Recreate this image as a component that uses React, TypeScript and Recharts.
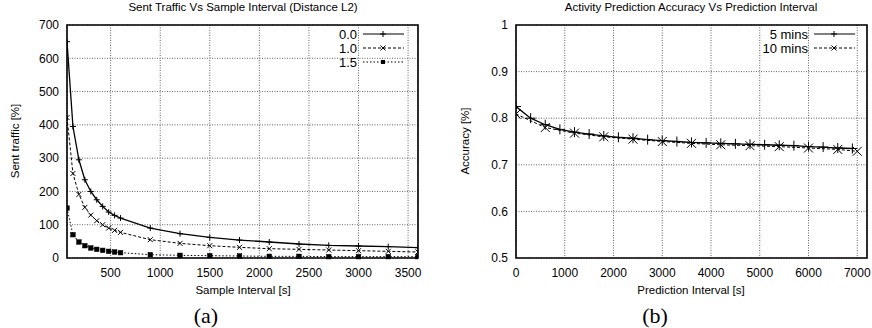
import { LineChart, Line, XAxis, YAxis, CartesianGrid, ReferenceArea } from "recharts";

// (a) sent traffic vs sample interval
const sampleIntervals = [60, 120, 180, 240, 300, 360, 420, 480, 540, 600, 900, 1200, 1500, 1800, 2100, 2400, 2700, 3000, 3300, 3600];
const traffic00 = [650, 395, 295, 235, 200, 175, 155, 138, 128, 120, 90, 73, 62, 54, 48, 42, 38, 36, 34, 31];
const traffic10 = [422, 254, 191, 152, 129, 112, 100, 90, 83, 77, 55, 44, 37, 32, 28, 26, 24, 22, 20, 18];
const traffic15 = [150, 70, 48, 37, 30, 26, 23, 20, 18, 16, 10, 8, 7, 6, 5, 5, 4, 4, 4, 4];
const trafficXTicks = [500, 1000, 1500, 2000, 2500, 3000, 3500];
const trafficYTicks = [0, 100, 200, 300, 400, 500, 600, 700];

// (b) accuracy vs prediction interval
const predInterval5 = [0, 300, 600, 900, 1200, 1500, 1800, 2100, 2400, 2700, 3000, 3300, 3600, 3900, 4200, 4500, 4800, 5100, 5400, 5700, 6000, 6300, 6600, 6900];
const accuracy5 = [0.825, 0.8, 0.786, 0.776, 0.77, 0.766, 0.762, 0.759, 0.757, 0.754, 0.752, 0.75, 0.748, 0.747, 0.746, 0.745, 0.744, 0.743, 0.742, 0.741, 0.739, 0.738, 0.736, 0.735];
const predInterval10 = [0, 600, 1200, 1800, 2400, 3000, 3600, 4200, 4800, 5400, 6000, 6600, 7000];
const accuracy10 = [0.809, 0.78, 0.768, 0.76, 0.755, 0.75, 0.746, 0.743, 0.741, 0.739, 0.736, 0.733, 0.729];
const accXTicks = [0, 1000, 2000, 3000, 4000, 5000, 6000, 7000];
const accYTicks = [0.5, 0.6, 0.7, 0.8, 0.9, 1];

const trafficData = sampleIntervals.map((x, i) => ({ x, a: traffic00[i], b: traffic10[i], c: traffic15[i] }));
const acc5Data = predInterval5.map((x, i) => ({ x, y: accuracy5[i] }));
const acc10Data = predInterval10.map((x, i) => ({ x, y: accuracy10[i] }));

const FONT = "'Liberation Sans', Arial, sans-serif";
const tickStyle = { fill: "#000", fontSize: 12, fontFamily: FONT };

const plusPath = (cx: number, cy: number, s: number) => `M${cx - s},${cy}H${cx + s}M${cx},${cy - s}V${cy + s}`;
const crossPath = (cx: number, cy: number, s: number) => `M${cx - s},${cy - s}L${cx + s},${cy + s}M${cx - s},${cy + s}L${cx + s},${cy - s}`;

const plusDot = (s: number) => (p: any) =>
  <path key={`pl-${p.index}`} d={plusPath(p.cx, p.cy, s)} stroke="#000" strokeWidth={1} fill="none" />;
const crossDot = (s: number) => (p: any) =>
  <path key={`cr-${p.index}`} d={crossPath(p.cx, p.cy, s)} stroke="#000" strokeWidth={1} fill="none" />;
const squareDot = (s: number) => (p: any) =>
  <rect key={`sq-${p.index}`} x={p.cx - s} y={p.cy - s} width={s * 2} height={s * 2} fill="#000" stroke="#000" strokeWidth={0.5} />;

function LegendRow({ x, y, label, dash, marker }: { x: number; y: number; label: string; dash?: string; marker: string }) {
  return (
    <g>
      <text x={x} y={y} textAnchor="end" dominantBaseline="central" fontSize={13} fontFamily={FONT}>{label}</text>
      <line x1={x + 6} x2={x + 47} y1={y} y2={y} stroke="#000" strokeWidth={1} strokeDasharray={dash} />
      {marker === "plus" && <path d={plusPath(x + 26, y, 3)} stroke="#000" fill="none" />}
      {marker === "cross" && <path d={crossPath(x + 26, y, 2.5)} stroke="#000" fill="none" />}
      {marker === "square" && <rect x={x + 24} y={y - 2} width={4} height={4} fill="#000" />}
    </g>
  );
}

export default function App() {
  return (
    <div style={{ position: "fixed", left: 0, top: 0, width: 872, height: 328, background: "#fff", overflow: "hidden" }}>
      <div style={{ position: "absolute", left: 0, top: 0 }}>
        <LineChart width={440} height={280} data={trafficData} margin={{ top: 25, right: 22, left: 0, bottom: 0 }}>
          <CartesianGrid stroke="#666" strokeDasharray="1 1.5" />
          <XAxis dataKey="x" type="number" domain={[60, 3600]} ticks={trafficXTicks} allowDataOverflow
            axisLine={false} tickLine={false} tick={tickStyle} height={22} tickMargin={4} />
          <YAxis type="number" domain={[0, 700]} ticks={trafficYTicks} axisLine={false} tickLine={false}
            tick={tickStyle} width={67} />
          <ReferenceArea x1={60} x2={3600} y1={0} y2={700} fill="none" stroke="#000" strokeWidth={1.6} />
          <Line dataKey="c" stroke="#000" strokeWidth={1} strokeDasharray="1.5 2" dot={squareDot(2.3)} isAnimationActive={false} />
          <Line dataKey="b" stroke="#000" strokeWidth={1} strokeDasharray="3 2" dot={crossDot(2.5)} isAnimationActive={false} />
          <Line dataKey="a" stroke="#000" strokeWidth={1.3} dot={plusDot(3)} isAnimationActive={false} />
        </LineChart>
      </div>
      <div style={{ position: "absolute", left: 440, top: 0 }}>
        <LineChart width={432} height={280} margin={{ top: 25, right: 5, left: 0, bottom: 0 }}>
          <CartesianGrid stroke="#666" strokeDasharray="1 1.5" />
          <XAxis dataKey="x" type="number" domain={[0, 7200]} ticks={accXTicks} allowDataOverflow
            axisLine={false} tickLine={false} tick={tickStyle} height={22} tickMargin={4} />
          <YAxis type="number" domain={[0.5, 1]} ticks={accYTicks} axisLine={false} tickLine={false}
            tick={tickStyle} width={76} />
          <ReferenceArea x1={0} x2={7200} y1={0.5} y2={1} fill="none" stroke="#000" strokeWidth={1.6} />
          <Line data={acc10Data} dataKey="y" stroke="#000" strokeWidth={1} strokeDasharray="3 2" dot={crossDot(4.5)} isAnimationActive={false} />
          <Line data={acc5Data} dataKey="y" stroke="#000" strokeWidth={1.3} dot={plusDot(5)} isAnimationActive={false} />
        </LineChart>
      </div>
      <svg width={872} height={328} style={{ position: "absolute", left: 0, top: 0, pointerEvents: "none" }}>
        <g fontFamily={FONT} fontSize={11.5} fill="#000">
          <text x={243} y={7} textAnchor="middle" dominantBaseline="central">Sent Traffic Vs Sample Interval (Distance L2)</text>
          <text x={691} y={7} textAnchor="middle" dominantBaseline="central">Activity Prediction Accuracy Vs Prediction Interval</text>
          <text x={243} y={290} textAnchor="middle" dominantBaseline="central">Sample Interval [s]</text>
          <text x={691} y={290} textAnchor="middle" dominantBaseline="central">Prediction Interval [s]</text>
          <text x={15} y={141} textAnchor="middle" dominantBaseline="central" transform="rotate(-90 15 141)">Sent traffic [%]</text>
          <text x={465} y={141} textAnchor="middle" dominantBaseline="central" transform="rotate(-90 465 141)">Accuracy [%]</text>
        </g>
        <g fontFamily="'Liberation Serif', 'Times New Roman', serif" fontSize={22} fill="#000">
          <text x={206} y={315} textAnchor="middle" dominantBaseline="central">(a)</text>
          <text x={655} y={315} textAnchor="middle" dominantBaseline="central">(b)</text>
        </g>
        <LegendRow x={357} y={34} label="0.0" marker="plus" />
        <LegendRow x={357} y={48} label="1.0" marker="cross" dash="3 2" />
        <LegendRow x={357} y={62} label="1.5" marker="square" dash="1.5 2" />
        <LegendRow x={808} y={34} label="5 mins" marker="plus" />
        <LegendRow x={808} y={48} label="10 mins" marker="cross" dash="3 2" />
      </svg>
    </div>
  );
}
